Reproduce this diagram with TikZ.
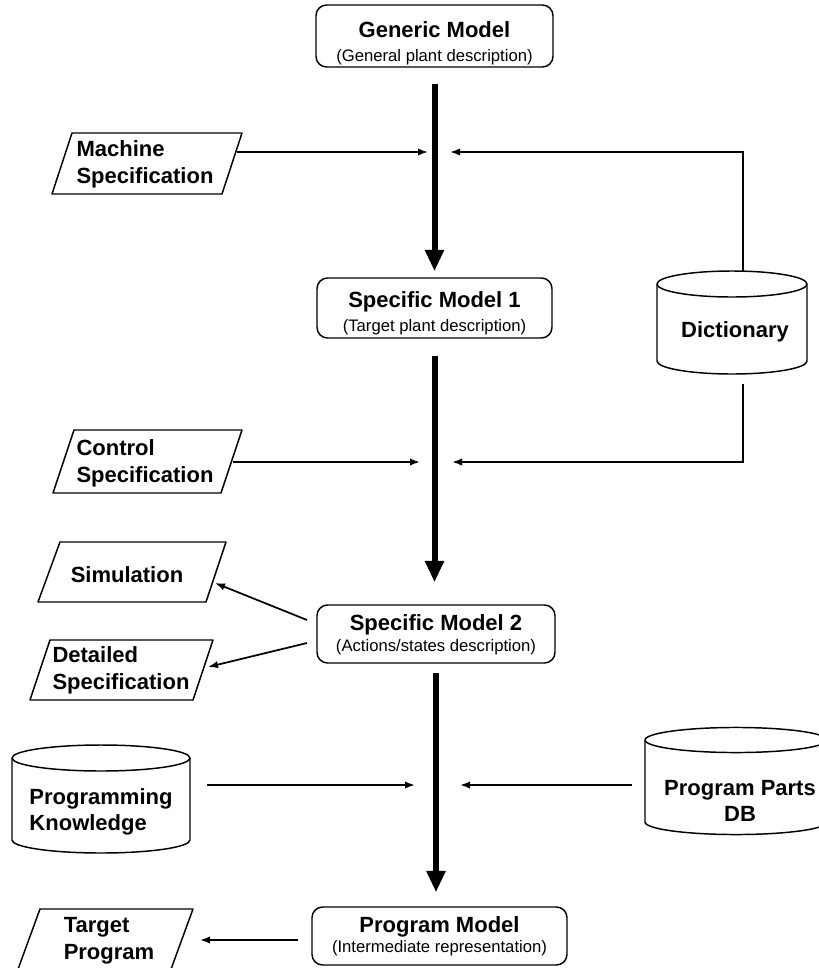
\documentclass[tikz,border=0pt]{standalone}
\usepackage{fontspec}
\setmainfont{Liberation Sans}
\usetikzlibrary{arrows.meta,calc}
\newcommand\titlef{\fontsize{16.5}{20}\selectfont\bfseries}
\newcommand\subf{\fontsize{12.5}{15}\selectfont}
\tikzset{
  model/.style={draw, line width=1.1pt, rounded corners=8pt, inner sep=0pt},
  ttl/.style={anchor=base, inner sep=0pt, font=\titlef},
  sub/.style={anchor=base, inner sep=0pt, font=\subf},
  lbl/.style={align=left, inner sep=0pt, font=\titlef},
  clbl/.style={align=center, inner sep=0pt, font=\titlef},
  outline/.style={line width=1.1pt, line join=round},
  big/.style={line width=4.5pt, -{Triangle[length=16pt,width=13.5pt]}},
  thin/.style={line width=1.3pt, -{Latex[length=7.5pt,width=5.5pt]}}
}
\begin{document}
\begin{tikzpicture}[x=0.75pt,y=-0.75pt]
\useasboundingbox (0,0) rectangle (818,968);

% model boxes
\node[model, minimum width=177.75pt, minimum height=46.5pt] (gen) at (434.5,36) {};
\node[ttl] (genT) at (434.5,37) {Generic Model};
\node[sub] (genS) at (434.5,61) {(General plant description)};

\node[model, minimum width=176.25pt, minimum height=45pt] (sm1) at (434.5,308) {};
\node[ttl] (sm1T) at (434.5,307) {Specific Model 1};
\node[sub] (sm1S) at (434.5,331) {(Target plant description)};

\node[model, minimum width=178.5pt, minimum height=43.5pt] (sm2) at (436,634) {};
\node[ttl] (sm2T) at (436,630) {Specific Model 2};
\node[sub] (sm2S) at (436,651) {(Actions/states description)};

\node[model, minimum width=191.25pt, minimum height=43.5pt] (pm) at (439.5,936) {};
\node[ttl] (pmT) at (439.5,932) {Program Model};
\node[sub] (pmS) at (439.5,952) {(Intermediate representation)};

% parallelograms
\draw[outline] (72,133) -- (242,133) -- (222,194) -- (52,194) -- cycle;
\node[lbl] (ms) at (145,164) {Machine\\Specification};
\draw[outline] (74,430) -- (242,430) -- (221,493) -- (53,493) -- cycle;
\node[lbl] (cs) at (145,463) {Control\\Specification};
\draw[outline] (60,542) -- (226,542) -- (206,602) -- (38,602) -- cycle;
\node[lbl] (sim) at (127,575) {Simulation};
\draw[outline] (50,640) -- (213,640) -- (193,700) -- (30,700) -- cycle;
\node[lbl] (ds) at (121,670) {Detailed\\Specification};
\draw[outline] (40,909) -- (193,909) -- (170,972) -- (17,972) -- cycle;
\node[lbl] (tp) at (109,941) {Target\\Program};

% cylinders
\draw[outline] (657,284) -- (657,361) arc[start angle=180,end angle=360,x radius=56.25pt,y radius=9.75pt] -- (807,284);
\draw[outline] (732,284) ellipse [x radius=56.25pt, y radius=9.75pt];
\node[clbl] (dict) at (735,332) {Dictionary};

\draw[outline] (12,758) -- (12,840) arc[start angle=180,end angle=360,x radius=66.75pt,y radius=9.75pt] -- (190,758);
\draw[outline] (101,758) ellipse [x radius=66.75pt, y radius=9.75pt];
\node[lbl] (pk) at (101,812) {Programming\\Knowledge};

\draw[outline] (645,740) -- (645,822) arc[start angle=180,end angle=360,x radius=68.25pt,y radius=9.4pt] -- (827,740);
\draw[outline] (736,740) ellipse [x radius=68.25pt, y radius=9.4pt];
\node[clbl] (ppdb) at (740,801) {Program Parts\\DB};

% main flow
\draw[big, shorten <=12pt, shorten >=4.5pt] (gen.south) -- (gen.south |- sm1.north);
\draw[big, shorten <=12.75pt, shorten >=16.5pt] (sm1.south) -- (sm1.south |- sm2.north);
\draw[big, shorten <=6.75pt, shorten >=10.5pt] (sm2.south) -- (sm2.south |- pm.north);

% connector points
\coordinate (msE) at (237,152);
\coordinate (j1L) at (428,152);
\coordinate (j1R) at (450,152);
\coordinate (dictT) at (743,271);
\coordinate (dictB) at (743,384);
\coordinate (csE) at (233,462);
\coordinate (j2L) at (420,462);
\coordinate (j2R) at (452,462);
\coordinate (pkE) at (207,785);
\coordinate (j3L) at (415,785);
\coordinate (j3R) at (460,785);
\coordinate (ppE) at (632,785);
\coordinate (sm2a) at (307,620);
\coordinate (simE) at (215,583);
\coordinate (sm2b) at (307,643);
\coordinate (dsE) at (208,667);
\coordinate (pmW) at (298,940);
\coordinate (tpE) at (200,940);

\draw[thin] (msE) -- (j1L);
\draw[thin] (dictT) |- (j1R);
\draw[thin] (csE) -- (j2L);
\draw[thin] (dictB) |- (j2R);
\draw[thin] (pkE) -- (j3L);
\draw[thin] (ppE) -- (j3R);
\draw[thin] (sm2a) -- (simE);
\draw[thin] (sm2b) -- (dsE);
\draw[thin] (pmW) -- (tpE);
\end{tikzpicture}
\end{document}
